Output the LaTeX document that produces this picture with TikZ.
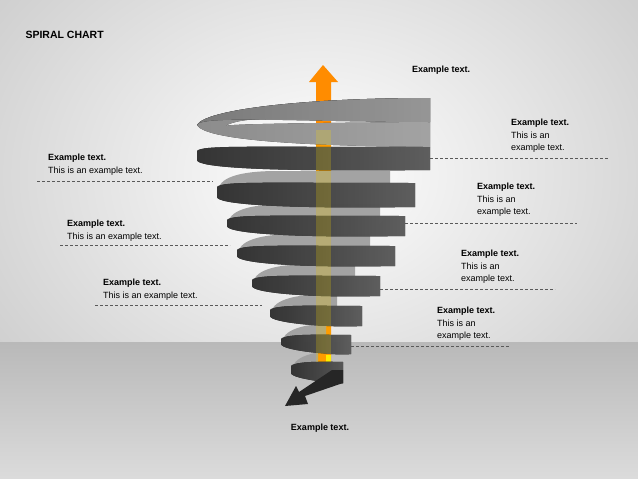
\documentclass[tikz,border=0pt]{standalone}
\usepackage{fontspec}
\setmainfont{Liberation Sans}
\begin{document}
\begin{tikzpicture}[x=1pt,y=-1pt,
  lbl/.style={anchor=west,align=left,inner sep=0pt,font=\fontsize{9}{12.5}\selectfont},
  leader/.style={densely dashed,gray!70!black,line width=0.5pt},
  back/.style={fill=gray!75,opacity=0.95},
  front/.style={left color=black!78,right color=black!60,middle color=black!70,opacity=0.9}]
\useasboundingbox (0,0) rectangle (638,479);
% background
\shade[inner color=white,outer color=gray!40] (-100,-150) rectangle (738,500);
\shade[top color=gray!55,bottom color=gray!28] (0,342) rectangle (638,479);
\node[anchor=west,font=\bfseries\fontsize{10.5}{12}\selectfont] (title) at (22,35) {SPIRAL CHART};
% arrow up (behind)
\fill[orange!90!yellow] (316,362) -- (316,82) -- (309,82) -- (323,65) -- (338,82) -- (331,82) -- (331,362) -- cycle;
\fill[yellow] (326,355) rectangle (331,363);
% top ring
\fill[left color=gray!80,right color=gray!60,opacity=0.9] (430,98) .. controls (300,98) and (205,110) .. (197,125) .. controls (205,140) and (300,146) .. (430,147) -- (430,122) .. controls (300,123) and (230,124) .. (225,126) .. controls (250,112) and (320,122) .. (430,122) -- cycle;
\fill[left color=gray!90,right color=gray!65,opacity=0.85] (430,98) .. controls (300,98) and (205,110) .. (197,125) .. controls (200,115) and (300,122) .. (430,122) -- cycle;
% bands: yt yb R L
\foreach \yt/\yb/\R/\L in {183/207/415/217, 216/236/405/227, 246/266/395/237, 276/296/380/252, 306/326/362/270, 335/354/351/281, 362/383/343/291}{
  \fill[back] (\L+3,\yt+2) .. controls (\L+10,\yt-10) and (\L+40,\yt-12) .. (\L+60,\yt-12) -- (\R-25,\yt-12) -- (\R-25,\yt) -- cycle;
}
\foreach \yt/\yb/\R/\L in {147/170/430/197, 183/207/415/217, 216/236/405/227, 246/266/395/237, 276/296/380/252, 306/326/362/270, 335/354/351/281, 362/383/343/291}{
  \fill[front] (\R,\yt) -- (\R,\yb) .. controls (\L+60,\yb+2) and (\L,\yb-3) .. (\L,\yb-10) -- (\L,\yt+4) .. controls (\L+5,\yt-2) and (\L+50,\yt) .. (\R,\yt) -- cycle;
}
% bottom arrow
\fill[black!85] (343,370) -- (343,383) -- (305,396) -- (308,404) -- (285,406) -- (296,386) -- (299,392) -- (332,370) -- cycle;
% arrow through bands (translucent)
\fill[yellow!80!orange,opacity=0.22] (316,130) rectangle (331,362);
% texts
\node[lbl,font=\bfseries\fontsize{9}{11}\selectfont] (t0) at (412,70) {Example text.};
\node[lbl,anchor=north] (tb) at (320,424) {\bfseries Example text.};
\node[lbl,anchor=north west] (r1) at (511,119) {\textbf{Example text.}\\This is an\\example text.};
\node[lbl,anchor=north west] (r2) at (477,183) {\textbf{Example text.}\\This is an\\example text.};
\node[lbl,anchor=north west] (r3) at (461,250) {\textbf{Example text.}\\This is an\\example text.};
\node[lbl,anchor=north west] (r4) at (437,307) {\textbf{Example text.}\\This is an\\example text.};
\node[lbl,anchor=north west] (l1) at (48,154) {\textbf{Example text.}\\This is an example text.};
\node[lbl,anchor=north west] (l2) at (67,220) {\textbf{Example text.}\\This is an example text.};
\node[lbl,anchor=north west] (l3) at (103,279) {\textbf{Example text.}\\This is an example text.};
\coordinate (a1) at (430,158); \coordinate (b1) at (608,158);
\coordinate (a2) at (405,223); \coordinate (b2) at (577,223);
\coordinate (a3) at (380,289); \coordinate (b3) at (555,289);
\coordinate (a4) at (351,346); \coordinate (b4) at (510,346);
\coordinate (c1) at (37,181); \coordinate (d1) at (213,181);
\coordinate (c2) at (60,245); \coordinate (d2) at (230,245);
\coordinate (c3) at (95,305); \coordinate (d3) at (262,305);
\foreach \p/\q in {a1/b1,a2/b2,a3/b3,a4/b4,c1/d1,c2/d2,c3/d3} \draw[leader] (\p) -- (\q);
\end{tikzpicture}
\end{document}
